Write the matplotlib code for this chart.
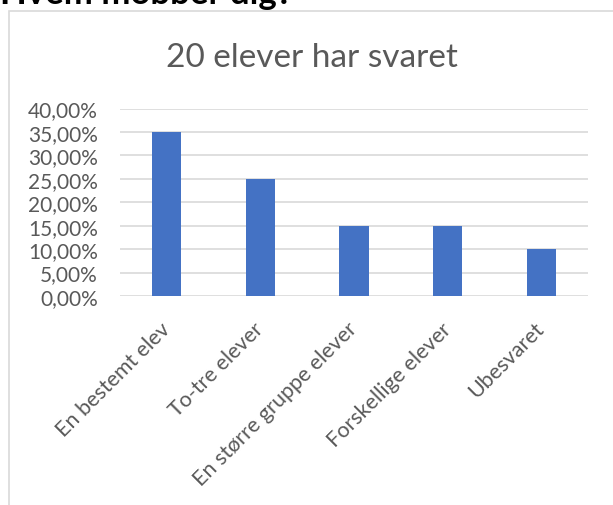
import matplotlib.pyplot as plt
import matplotlib.patches as patches
import matplotlib.transforms as mtransforms
import numpy as np

categories = ["En bestemt elev", "To-tre elever", "En større gruppe elever",
              "Forskellige elever", "Ubesvaret"]
values = [0.35, 0.25, 0.15, 0.15, 0.10]
yticks = [0.0, 0.05, 0.10, 0.15, 0.20, 0.25, 0.30, 0.35, 0.40]

plt.rcParams['font.family'] = ['Lato', 'DejaVu Sans']

W, H = 613, 506
fig = plt.figure(figsize=(W / 100, H / 100), dpi=100)

# plot area in pixels: x 120..588, y 109.5..297
ax = fig.add_axes([120 / W, 1 - 297 / H, 468 / W, (297 - 109.5) / H])

x = np.arange(len(categories))
ax.bar(x, values, width=0.31, color='#4472c4', zorder=3)
ax.set_xlim(-0.5, len(categories) - 0.5)
ax.set_ylim(0, 0.40)
ax.set_yticks(yticks)
ax.set_yticklabels([("%.2f%%" % (v * 100)).replace('.', ',') for v in yticks],
                   fontsize=15, color='#595959')
ax.set_xticks(x)
ax.set_xticklabels(categories, rotation=45, ha='right', va='top',
                   rotation_mode='anchor', fontsize=15.5, color='#595959')
ax.tick_params(axis='y', length=0, pad=16)
ax.tick_params(axis='x', length=0, pad=16)
# nudge x labels so their ends sit under the bars
shift = mtransforms.ScaledTranslation(-7 / 100, 0, fig.dpi_scale_trans)
for lab in ax.get_xticklabels():
  lab.set_transform(lab.get_transform() + shift)
ax.grid(axis='y', color='#d9d9d9', linewidth=1.2, zorder=0)
for s in ax.spines.values():
  s.set_visible(False)

fig.text(312 / W, 1 - 66.7 / H, '20 elever har svaret', fontsize=24,
         color='#595959', ha='center', va='baseline')

# chart frame
fig.patches.append(patches.Rectangle((9 / W, -0.1), 1.2, 1 - 11.5 / H + 0.1,
                                     transform=fig.transFigure, fill=False,
                                     edgecolor='#d9d9d9', linewidth=1.2))

# heading cut off at top of image
fig.text(0 / W, 1 - 4 / H, 'Hvem mobber dig?', fontsize=25, fontweight='bold',
         color='black', ha='left', va='baseline')

fig.savefig('out.png', dpi=100)
